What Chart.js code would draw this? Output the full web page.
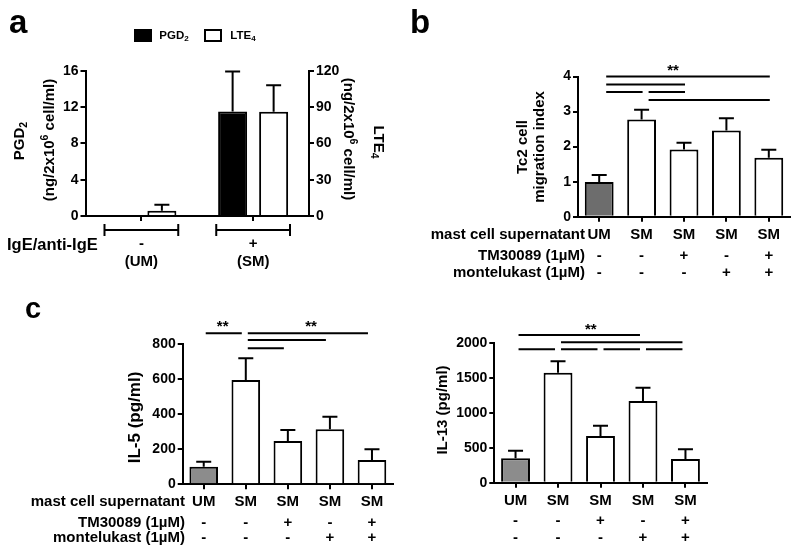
<!DOCTYPE html>
<html>
<head>
<meta charset="utf-8">
<script src="https://cdn.jsdelivr.net/npm/chart.js@4.4.1/dist/chart.umd.min.js"></script>
<style>
  body { margin: 0; background: #fff; }
  #wrap { position: relative; width: 800px; height: 558px; }
  canvas { position: absolute; }
</style>
</head>
<body>
<div id="wrap">
  <canvas id="panelA" width="400" height="290" style="left:0;top:0"></canvas>
  <canvas id="panelB" width="400" height="290" style="left:400px;top:0"></canvas>
  <canvas id="panelC1" width="400" height="268" style="left:0;top:290px"></canvas>
  <canvas id="panelC2" width="400" height="268" style="left:400px;top:290px"></canvas>
</div>
<script>
// panel a: mast cell release, two y axes
const stimGroups = ['-', '+'];
const stimNames = ['(UM)', '(SM)'];
const pgd2 = [0.04, 11.5];
const pgd2Sem = [0, 4.4];
const lte4 = [4.4, 86];
const lte4Sem = [4.9, 22];

// panels b and c: same five conditions
const supernatant = ['UM', 'SM', 'SM', 'SM', 'SM'];
const tm30089 = ['-', '-', '+', '-', '+'];
const montelukast = ['-', '-', '-', '+', '+'];
const rowNames = ['mast cell supernatant', 'TM30089 (1µM)', 'montelukast (1µM)'];

const tc2Index = [0.99, 2.77, 1.92, 2.46, 1.68];
const tc2Sem = [0.20, 0.28, 0.19, 0.35, 0.23];
const il5 = [100, 596, 247, 314, 139];
const il5Sem = [29, 124, 63, 72, 61];
const il13 = [348, 1571, 667, 1167, 338];
const il13Sem = [109, 163, 147, 190, 139];

// ** comparisons: [from, to, height in y units]
const tc2Sig = [[0, 4, 4.0], [0, 2, 3.77], [0, 1, 3.56], [1, 2, 3.56], [1, 4, 3.33]];
const tc2Stars = [[1.74, 4.27]];
const il5Sig = [[0, 1, 863], [1, 4, 863], [1, 3, 825], [1, 2, 777]];
const il5Stars = [[0.45, 920], [2.55, 920]];
const il13Sig = [[0, 3, 2110], [1, 4, 2006], [0, 1, 1906], [1, 2, 1906], [2, 3, 1906], [3, 4, 1906]];
const il13Stars = [[1.77, 2240]];

const FONT = '"Liberation Sans", Arial, sans-serif';
Chart.defaults.font.family = FONT;
Chart.defaults.color = '#000';

function font(size) {
  return 'bold ' + size + 'px ' + FONT;
}

// text with sub/superscript parts, optionally rotated
function richText(ctx, parts, x, y, size, angle) {
  ctx.save();
  ctx.translate(x, y);
  ctx.rotate(angle || 0);
  ctx.textAlign = 'left';
  ctx.textBaseline = 'middle';
  let w = 0;
  parts.forEach(p => {
    ctx.font = font(p[1] ? size * 0.7 : size);
    w += ctx.measureText(p[0]).width;
  });
  let cx = -w / 2;
  parts.forEach(p => {
    ctx.font = font(p[1] ? size * 0.7 : size);
    let dy = 0;
    if (p[1] == 'sub') dy = size * 0.3;
    if (p[1] == 'sup') dy = -size * 0.35;
    ctx.fillText(p[0], cx, dy);
    cx += ctx.measureText(p[0]).width;
  });
  ctx.restore();
}

const errorBars = {
  id: 'errorBars',
  afterDatasetsDraw(chart) {
    const ctx = chart.ctx;
    ctx.save();
    ctx.strokeStyle = '#000';
    ctx.lineWidth = 2;
    chart.data.datasets.forEach((ds, di) => {
      const meta = chart.getDatasetMeta(di);
      const ys = chart.scales[meta.yAxisID];
      meta.data.forEach((bar, i) => {
        if (!ds.sem[i]) return;
        const top = ys.getPixelForValue(ds.data[i] + ds.sem[i]);
        ctx.beginPath();
        ctx.moveTo(bar.x, bar.y);
        ctx.lineTo(bar.x, top);
        ctx.moveTo(bar.x - 7.5, top);
        ctx.lineTo(bar.x + 7.5, top);
        ctx.stroke();
      });
    });
    ctx.restore();
  }
};

const axisBorder = { color: '#000', width: 2 };
const AXIS_W = 44; // room for the tick labels

function yAxis(max, step, position) {
  return {
    position: position,
    min: 0,
    max: max,
    border: axisBorder,
    grid: { drawOnChartArea: false, color: '#000', lineWidth: 2, tickLength: 5 },
    ticks: {
      stepSize: step,
      padding: 2,
      color: '#000',
      font: { size: 14, weight: 'bold' },
      callback: v => String(v)
    },
    afterFit: s => { s.width = AXIS_W; }
  };
}

function xAxis() {
  return {
    border: axisBorder,
    grid: { offset: false, drawOnChartArea: false, color: '#000', lineWidth: 2, tickLength: 5 },
    ticks: { display: false },
    afterFit: s => { s.height = 0; }
  };
}

// ---- panel a ----
const panelAText = {
  id: 'panelAText',
  afterDraw(chart) {
    const ctx = chart.ctx;
    const xs = chart.scales.x;
    ctx.save();
    ctx.fillStyle = '#000';
    ctx.strokeStyle = '#000';
    ctx.lineWidth = 2;

    ctx.font = font(33);
    ctx.textAlign = 'left';
    ctx.textBaseline = 'alphabetic';
    ctx.fillText('a', 9, 33);

    // legend
    ctx.fillRect(134, 29, 18, 13);
    ctx.strokeRect(205, 30, 16, 11);
    richText(ctx, [['PGD', ''], ['2', 'sub']], 174, 35.5, 11.5);
    richText(ctx, [['LTE', ''], ['4', 'sub']], 243, 35.5, 11.5);

    // axis titles
    richText(ctx, [['PGD', ''], ['2', 'sub']], 20, 141, 15, -Math.PI / 2);
    richText(ctx, [['(ng/2x10', ''], ['6', 'sup'], [' cell/ml)', '']], 50, 140, 15, -Math.PI / 2);
    richText(ctx, [['LTE', ''], ['4', 'sub']], 378, 142, 15, Math.PI / 2);
    richText(ctx, [['(ng/2x10', ''], ['6', 'sup'], [' cell/ml)', '']], 348, 139, 15, Math.PI / 2);

    // stimulation brackets and labels
    ctx.font = font(16.5);
    ctx.textAlign = 'left';
    ctx.textBaseline = 'middle';
    ctx.fillText('IgE/anti-IgE', 7, 245);
    stimGroups.forEach((g, i) => {
      const cx = xs.getPixelForValue(i);
      const x1 = xs.getPixelForValue(i - 0.33);
      const x2 = xs.getPixelForValue(i + 0.33);
      ctx.beginPath();
      ctx.moveTo(x1, 230); ctx.lineTo(x2, 230);
      ctx.moveTo(x1, 224); ctx.lineTo(x1, 236);
      ctx.moveTo(x2, 224); ctx.lineTo(x2, 236);
      ctx.stroke();
      ctx.font = font(15);
      ctx.textAlign = 'center';
      ctx.fillText(g, cx, 244);
      ctx.fillText(stimNames[i], cx, 262);
    });
    ctx.restore();
  }
};

new Chart(document.getElementById('panelA'), {
  type: 'bar',
  data: {
    labels: stimGroups,
    datasets: [
      { label: 'PGD2', data: pgd2, sem: pgd2Sem, yAxisID: 'y', backgroundColor: '#000', borderColor: '#000', borderWidth: 2 },
      { label: 'LTE4', data: lte4, sem: lte4Sem, yAxisID: 'y2', backgroundColor: '#fff', borderColor: '#000', borderWidth: 2 }
    ]
  },
  options: {
    responsive: false,
    animation: false,
    events: [],
    datasets: { bar: { categoryPercentage: 0.734, barPercentage: 0.707 } },
    layout: { padding: { left: 85.5 - AXIS_W, right: 91 - AXIS_W, top: 70.7, bottom: 74 } },
    scales: { x: xAxis(), y: yAxis(16, 4, 'left'), y2: yAxis(120, 30, 'right') },
    plugins: { legend: { display: false }, tooltip: { enabled: false } }
  },
  plugins: [errorBars, panelAText]
});

// ---- panels b and c ----
function conditionPanel(cfg) {
  const extras = {
    id: 'extras',
    afterDraw(chart) {
      const ctx = chart.ctx;
      const xs = chart.scales.x;
      const ys = chart.scales.y;
      ctx.save();
      ctx.fillStyle = '#000';
      ctx.strokeStyle = '#000';
      ctx.lineWidth = 2;

      if (cfg.letter) {
        ctx.font = font(cfg.letter[3]);
        ctx.textAlign = 'left';
        ctx.textBaseline = 'alphabetic';
        ctx.fillText(cfg.letter[0], cfg.letter[1], cfg.letter[2]);
      }

      // significance lines
      cfg.sig.forEach(s => {
        const y = ys.getPixelForValue(s[2]);
        ctx.beginPath();
        ctx.moveTo(xs.getPixelForValue(s[0]) + 3 + cfg.sigShift, y);
        ctx.lineTo(xs.getPixelForValue(s[1]) - 3 + cfg.sigShift, y);
        ctx.stroke();
      });
      ctx.font = font(15);
      ctx.textAlign = 'center';
      ctx.textBaseline = 'middle';
      cfg.stars.forEach(s => {
        ctx.fillText('**', xs.getPixelForValue(s[0]), ys.getPixelForValue(s[1]) + 4);
      });

      // y title
      cfg.title.forEach(t => {
        richText(ctx, [[t[0], '']], t[1], cfg.titleY, cfg.titleSize, -Math.PI / 2);
      });

      // condition rows
      const rows = [supernatant, tm30089, montelukast];
      ctx.font = font(15);
      ctx.textBaseline = 'middle';
      rows.forEach((row, r) => {
        if (cfg.rowLabelX) {
          ctx.textAlign = 'right';
          ctx.fillText(rowNames[r], cfg.rowLabelX, cfg.rowY[r]);
        }
        ctx.textAlign = 'center';
        row.forEach((v, i) => {
          ctx.fillText(v, xs.getPixelForValue(i), cfg.rowY[r]);
        });
      });
      ctx.restore();
    }
  };

  const pad = Object.assign({}, cfg.padding);
  pad.left -= AXIS_W;

  new Chart(document.getElementById(cfg.id), {
    type: 'bar',
    data: {
      labels: supernatant,
      datasets: [{
        data: cfg.values,
        sem: cfg.sem,
        backgroundColor: supernatant.map(s => s == 'UM' ? cfg.umColor : '#fff'),
        borderColor: '#000',
        borderWidth: 2,
        categoryPercentage: 1,
        barPercentage: 0.68
      }]
    },
    options: {
      responsive: false,
      animation: false,
      events: [],
      layout: { padding: pad },
      scales: { x: xAxis(), y: yAxis(cfg.max, cfg.step, 'left') },
      plugins: { legend: { display: false }, tooltip: { enabled: false } }
    },
    plugins: [errorBars, extras]
  });
}

conditionPanel({
  id: 'panelB', values: tc2Index, sem: tc2Sem, max: 4, step: 1,
  padding: { left: 178, right: 10, top: 76.5, bottom: 73.3 },
  sig: tc2Sig, stars: tc2Stars, sigShift: 4, umColor: '#6d6d6d',
  letter: ['b', 10, 33, 33],
  title: [['Tc2 cell', 123], ['migration index', 140]], titleY: 147, titleSize: 15,
  rowY: [235, 256, 273], rowLabelX: 185
});

conditionPanel({
  id: 'panelC1', values: il5, sem: il5Sem, max: 800, step: 200,
  padding: { left: 182.7, right: 7, top: 54.3, bottom: 73.7 },
  sig: il5Sig, stars: il5Stars, sigShift: -1, umColor: '#8c8c8c',
  letter: ['c', 25, 28, 29],
  title: [['IL-5 (pg/ml)', 135]], titleY: 127.5, titleSize: 17,
  rowY: [211.7, 232.5, 248.3], rowLabelX: 185
});

conditionPanel({
  id: 'panelC2', values: il13, sem: il13Sem, max: 2000, step: 500,
  padding: { left: 94.3, right: 93.3, top: 52.7, bottom: 75.3 },
  sig: il13Sig, stars: il13Stars, sigShift: 0, umColor: '#8c8c8c',
  letter: null,
  title: [['IL-13 (pg/ml)', 43.3]], titleY: 120, titleSize: 15,
  rowY: [210.7, 231, 248.3], rowLabelX: null
});
</script>
</body>
</html>
